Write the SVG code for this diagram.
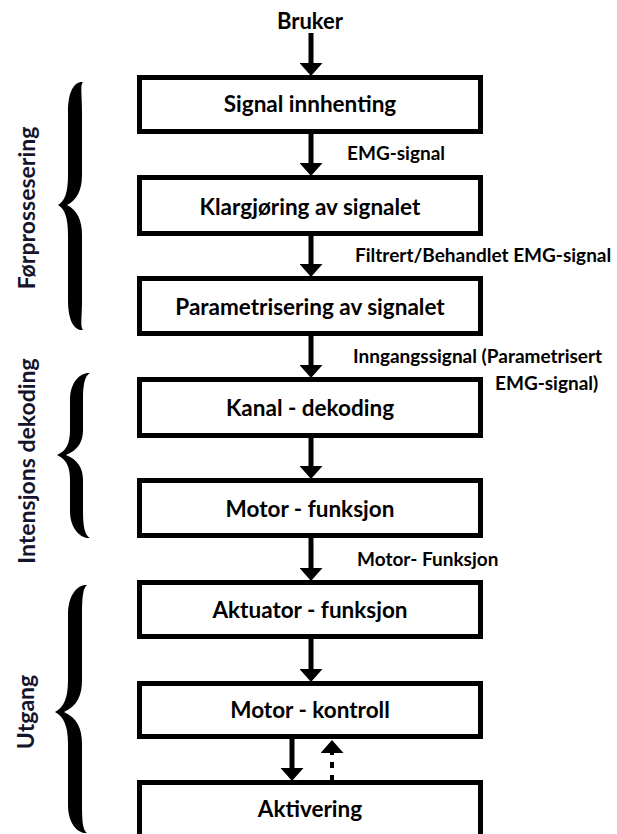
<svg xmlns="http://www.w3.org/2000/svg" width="617" height="834" viewBox="0 0 617 834">
<style>
.box{fill:#fff;stroke:#000;stroke-width:5}
.lbl{font-family:Lato,"Liberation Sans",sans-serif;font-weight:bold;font-size:22.5px;fill:#000;text-anchor:middle}
.elbl{font-family:Lato,"Liberation Sans",sans-serif;font-weight:bold;font-size:19px;fill:#000}
.side{font-family:Lato,"Liberation Sans",sans-serif;font-weight:bold;font-size:23px;fill:#14142e;text-anchor:middle}
.arr{stroke:#000;stroke-width:5;fill:none;marker-end:url(#ah)}
.darr{stroke:#000;stroke-width:4;fill:none;stroke-dasharray:6 7;marker-end:url(#ah)}
.brace{fill:#000}
</style>
<defs>
<marker id="ah" markerUnits="userSpaceOnUse" markerWidth="13" markerHeight="23" viewBox="0 0 13 23" refX="0" refY="11.5" orient="auto">
<path d="M0,0 L13,11.5 L0,23 Z" fill="#000"/>
</marker>
</defs>
<rect width="617" height="834" fill="#fff"/>

<g id="connectors">
<line class="arr" x1="311" y1="33" x2="311" y2="63"/>
<line class="arr" x1="311" y1="134" x2="311" y2="163"/>
<line class="arr" x1="311" y1="236" x2="311" y2="264"/>
<line class="arr" x1="311" y1="336" x2="311" y2="365"/>
<line class="arr" x1="311" y1="438" x2="311" y2="466"/>
<line class="arr" x1="311" y1="538" x2="311" y2="568"/>
<line class="arr" x1="311" y1="639" x2="311" y2="669"/>
<line class="arr" x1="292" y1="739" x2="292" y2="768"/>
<line class="darr" x1="332" y1="781" x2="332" y2="753"/>
<text class="elbl" x="347" y="160">EMG-signal</text>
<text class="elbl" x="355" y="262">Filtrert/Behandlet EMG-signal</text>
<text class="elbl" x="353" y="363">Inngangssignal (Parametrisert</text>
<text class="elbl" x="495" y="390">EMG-signal)</text>
<text class="elbl" x="357" y="566">Motor- Funksjon</text>
</g>

<g id="bruker"><text class="lbl" x="310" y="29" style="font-size:22px">Bruker</text></g>

<g id="n1"><rect class="box" x="139.5" y="77.5" width="341" height="54"/><text class="lbl" x="310" y="112">Signal innhenting</text></g>
<g id="n2"><rect class="box" x="139.5" y="177.5" width="341" height="56"/><text class="lbl" x="310" y="215">Klargjøring av signalet</text></g>
<g id="n3"><rect class="box" x="139.5" y="278.5" width="341" height="55"/><text class="lbl" x="310" y="315">Parametrisering av signalet</text></g>
<g id="n4"><rect class="box" x="139.5" y="379.5" width="341" height="56"/><text class="lbl" x="310" y="416">Kanal - dekoding</text></g>
<g id="n5"><rect class="box" x="139.5" y="480.5" width="341" height="55"/><text class="lbl" x="310" y="517">Motor - funksjon</text></g>
<g id="n6"><rect class="box" x="139.5" y="582.5" width="341" height="54"/><text class="lbl" x="310" y="618">Aktuator - funksjon</text></g>
<g id="n7"><rect class="box" x="139.5" y="683.5" width="341" height="53"/><text class="lbl" x="310" y="718">Motor - kontroll</text></g>
<g id="n8"><rect class="box" x="139.5" y="782.5" width="341" height="70"/><text class="lbl" x="310" y="817">Aktivering</text></g>

<g id="brace1">
<path class="brace" d="M83,82 C75,81 68,90 68,112 L68,175 C68,192 65,201 58,205 C65,209 68,218 68,235 L68,300 C68,322 75,331 83,330 C80,327 82,318 82,300 L82,235 C82,220 77,210 67,205 C77,200 82,190 82,175 L82,112 C82,94 80,85 83,82 Z"/>
<text class="side" transform="translate(35,208) rotate(-90)">Førprossesering</text>
</g>
<g id="brace2">
<path class="brace" d="M90,373 C82,372 70,380 70,400 L70,430 C70,444 66,451 57,455 C66,459 70,466 70,480 L70,511 C70,530 82,539 90,538 C85,535 83,528 83,511 L83,480 C83,468 78,460 66,455 C78,450 83,442 83,430 L83,400 C83,383 85,376 90,373 Z"/>
<text class="side" transform="translate(35,461) rotate(-90)">Intensjons dekoding</text>
</g>
<g id="brace3">
<path class="brace" d="M87,585 C79,584 68,593 68,615 L68,680 C68,698 64,707 55,712 C64,717 68,726 68,744 L68,805 C68,825 79,834 87,833 C83,830 82,823 82,805 L82,744 C82,728 77,718 64,712 C77,706 82,696 82,680 L82,615 C82,597 83,588 87,585 Z"/>
<text class="side" transform="translate(34,712) rotate(-90)">Utgang</text>
</g>
</svg>
